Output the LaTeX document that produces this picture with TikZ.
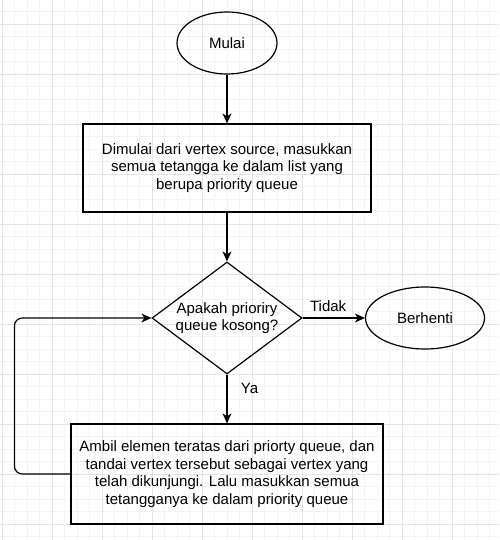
\documentclass[tikz,border=0pt]{standalone}
\usepackage{fontspec}
\setmainfont{Liberation Sans}
\usepackage{tikz}
\usetikzlibrary{positioning}
\usetikzlibrary{shapes.geometric}
\usetikzlibrary{arrows.meta}
\definecolor{gridminor}{HTML}{F4F4F4}
\definecolor{gridmajor}{HTML}{E4E4E4}

\begin{document}
\begin{tikzpicture}[x=1pt,y=1pt,>={Stealth[length=10pt,width=9pt,inset=3pt]},line width=1.2pt,node distance=150pt,
  every node/.style={font=\fontsize{15}{17.5}\selectfont},
  terminal/.style={ellipse,draw,minimum width=100pt,minimum height=62pt,inner sep=0pt},
  process/.style={rectangle,draw,align=center,inner sep=0pt},
  decision/.style={diamond,draw,align=center,aspect=1.34,minimum width=150pt,minimum height=112pt,inner sep=0pt}]
% background grid
\fill[white] (0,0) rectangle (499,-540);
\useasboundingbox (0,0) rectangle (499,-540);
\draw[gridminor,line width=0.8pt,step=12.5pt,shift={(2.3,-24.3)}] (-2.3,24.3) grid (496.7,-515.7);
\draw[gridmajor,line width=0.8pt,step=50pt,shift={(2.3,-24.3)}] (-2.3,24.3) grid (496.7,-515.7);

\node[terminal] (start) at (227,-43) {Mulai};
\node[process,minimum width=288pt,minimum height=88pt] (init) [below of=start,node distance=125pt] {Dimulai dari vertex source, masukkan\\semua tetangga ke dalam list yang\\berupa priority queue};
\node[decision] (check) [below of=init] {Apakah prioriry\\queue kosong?};
\node[process,minimum width=312pt,minimum height=100pt] (visit) [below of=check,node distance=156pt] {Ambil elemen teratas dari priorty queue, dan\\tandai vertex tersebut sebagai vertex yang\\telah dikunjungi. Lalu masukkan semua\\tetangganya ke dalam priority queue};
\node[terminal,minimum width=119pt] (stop) [right of=check,node distance=198pt] {Berhenti};

\path[->] (start) edge (init)
      (init)  edge (check)
      (check) edge node[pos=0.41,above=2pt] {Tidak} (stop)
      (check) edge node[pos=0.28,right=10pt] {Ya} (visit);
\draw[->,rounded corners=8pt] (visit.west) -- ++(-56,0) |- (check.west);
\end{tikzpicture}
\end{document}
